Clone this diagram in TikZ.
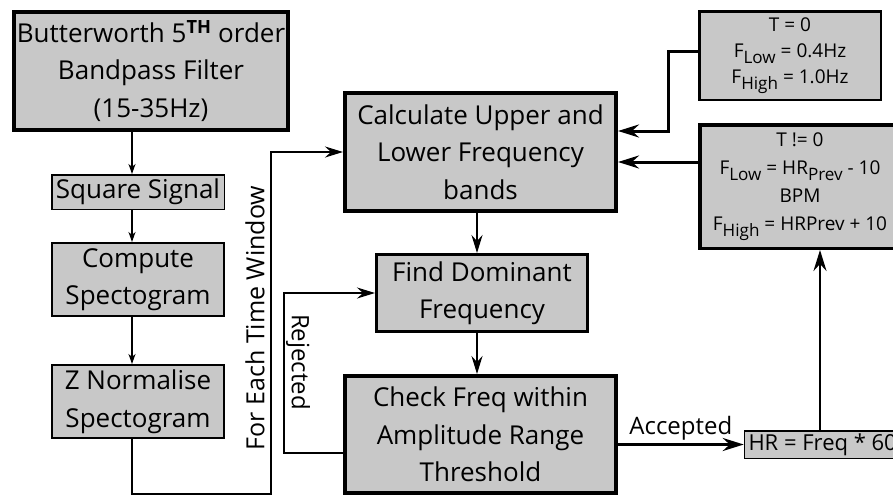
\documentclass[tikz,border=0pt]{standalone}
\usepackage{fontspec}
\usepackage{graphicx}
\setmainfont{Open Sans}
\usetikzlibrary{arrows.meta,calc}
\definecolor{boxgray}{RGB}{200,200,200}
\newcommand{\sbs}[1]{\raisebox{-0.3em}{\scalebox{0.9}{#1}}}
\tikzset{
  box/.style={draw=black, fill=boxgray, align=center, inner sep=0pt,
    font=\fontsize{26}{37.5}\selectfont},
  smallbox/.style={box, font=\fontsize{19}{26}\selectfont},
  lbl/.style={font=\fontsize{24}{28}\selectfont, inner sep=2pt},
  arr/.style={-{Stealth[length=21pt,width=13pt,inset=7pt]}, line width=2.5pt},
  thinarr/.style={-{Stealth[length=18pt,width=11pt,inset=6pt]}, line width=2pt},
  smallarr/.style={-{Stealth[length=10pt,width=7pt,inset=3pt]}, line width=1.6pt},
  plainline/.style={line width=2pt}
}
\begin{document}
\begin{tikzpicture}[x=1pt,y=-1pt]
\useasboundingbox (0,0) rectangle (893,498);
\clip (0,0) rectangle (893,498);

% boxes
\node[box, line width=4pt, minimum width=274pt, minimum height=118pt] (bw) at (151,71)
  {Butterworth 5\textsuperscript{\textbf{TH}} order\\Bandpass Filter\\(15-35Hz)};
\node[box, line width=1.5pt, minimum width=172.5pt, minimum height=34.5pt] (sq) at (138,192) {Square Signal};
\node[box, line width=2pt, minimum width=172pt, minimum height=73pt] (cs) at (138,279.5) {Compute\\Spectogram};
\node[box, line width=2pt, minimum width=172pt, minimum height=73pt] (zn) at (138,401.5) {Z Normalise\\Spectogram};
\node[box, line width=4pt, minimum width=271pt, minimum height=118pt] (calc) at (480.5,152)
  {Calculate Upper and\\Lower Frequency\\bands};
\node[box, line width=3pt, minimum width=211pt, minimum height=77pt] (find) at (482,293)
  {Find Dominant\\Frequency};
\node[box, line width=4pt, minimum width=271pt, minimum height=117pt] (check) at (480.5,434.5)
  {Check Freq within\\Amplitude Range\\Threshold};
\node[smallbox, line width=2.5pt, minimum width=181.5pt, minimum height=88.5pt] (t0) at (790,55.5)
  {T = 0\\F\sbs{Low} = 0.4Hz\\F\sbs{High} = 1.0Hz};
\node[smallbox, font=\fontsize{19}{28}\selectfont, line width=3.5pt, minimum width=200pt, minimum height=123.5pt] (tn) at (800,186.5)
  {T != 0\\F\sbs{Low} = HR\sbs{Prev} - 10\\BPM\\F\sbs{High} = HRPrev + 10};
\node[box, font=\fontsize{22}{26}\selectfont, line width=1.5pt, minimum height=27.5pt, anchor=west, inner xsep=4pt] (hr) at (743.75,444.5)
  {HR = Freq * 60};

% helper coordinates
\coordinate (col) at (132,0);
\coordinate (cx) at (477,0);
\coordinate (hx) at (820,0);
\coordinate (fe) at (271,494);
\coordinate (rj) at (284,453);
\coordinate (ta) at (668,51);
\coordinate (tk) at (668,131);
\coordinate (tb) at (0,162);

% left column
\draw[smallarr] (bw.south -| col) -- (sq.north -| col);
\draw[smallarr] (sq.south -| col) -- (cs.north -| col);
\draw[smallarr] (cs.south -| col) -- (zn.north -| col);
\draw[thinarr] (zn.south -| col) |- (fe) |- (calc.west);
\node[lbl, font=\fontsize{25}{28}\selectfont, rotate=90] (few) at (255,318) {For Each Time Window};

% middle column
\draw[thinarr] (calc.south -| cx) -- (find.north -| cx);
\draw[thinarr] (find.south -| cx) -- (check.north -| cx);
\draw[thinarr] (check.west |- rj) -- (rj) |- (find.west);
\node[lbl, rotate=-90] (rjl) at (298,362) {Rejected};

% accepted
\draw[arr, line width=3pt] (check.east |- hr.west) -- (hr.west)
  node[lbl, midway, above, yshift=1pt] (acc) {Accepted};
\draw[arr] (hr.north -| hx) -- (tn.south -| hx);

% right boxes to calc
\draw[arr, line width=3pt] (t0.west |- ta) -- (ta) -- (tk) -- (calc.east |- tk);
\draw[arr, line width=3pt] (tn.west |- tb) -- (calc.east |- tb);
\end{tikzpicture}
\end{document}
